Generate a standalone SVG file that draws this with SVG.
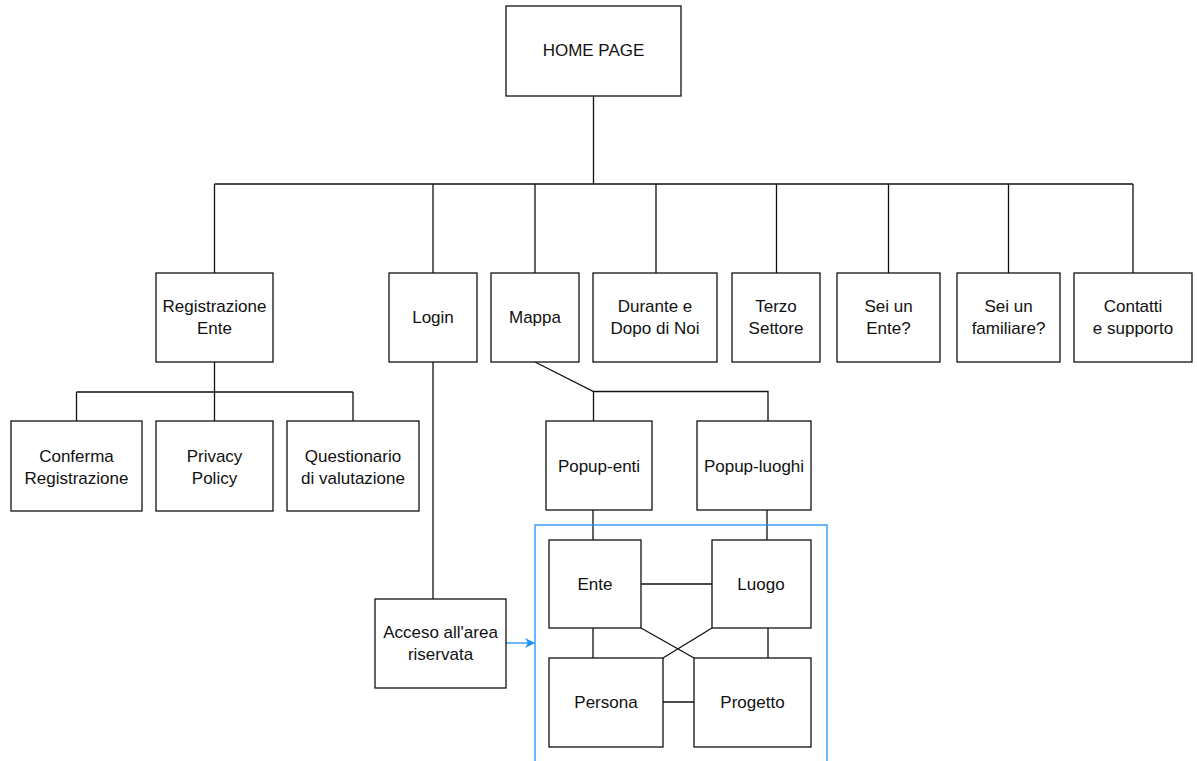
<svg xmlns="http://www.w3.org/2000/svg" width="1197" height="761" viewBox="0 0 1197 761">
<defs>
<style>
.box{fill:#fff;stroke:#111;stroke-width:1.3}
.edge{fill:none;stroke:#111;stroke-width:1.3}
.lbl{font-family:"Liberation Sans",Arial,Helvetica,sans-serif;font-size:17px;text-anchor:middle;fill:#111}
.blue{fill:none;stroke:#1f8ef5;stroke-width:1.3}
</style>
<marker id="arr" viewBox="0 0 10 10" refX="9" refY="5" markerWidth="10" markerHeight="10" markerUnits="userSpaceOnUse" orient="auto">
<path d="M0,0 L10,5 L0,10 L3,5 Z" fill="#1f8ef5"/>
</marker>
</defs>
<rect width="1197" height="761" fill="#fff"/>
<g id="connectors">
<path class="edge" d="M593.5,96 V184 M214.5,184 H1133 M214.5,184 V273 M433,184 V273 M535,184 V273 M656,184 V273 M776.5,184 V273 M888.5,184 V273 M1008.5,184 V273 M1133,184 V273"/>
<path class="edge" d="M214.5,362 V392 M76.5,392 H353 M76.5,392 V421 M214.5,392 V421 M353,392 V421"/>
<path class="edge" d="M433,362 V599"/>
<path class="edge" d="M535,362 L593.5,391.5 H768 V421 M593.5,391.5 V421"/>
<path class="edge" d="M593,510 V540 M767,510 V540 M641,584 H712 M593,628 V658 M768,628 V658 M663,702 H694 M641,628 L694,658 M712,628 L663,658"/>
<line class="blue" x1="506" y1="643" x2="534" y2="643" marker-end="url(#arr)"/>
</g>
<g id="group-area">
<rect class="blue" x="535" y="525" width="292" height="260"/>
</g>
<g id="home"><rect class="box" x="506" y="6" width="175" height="90"/><text class="lbl" x="593.5" y="56">HOME PAGE</text></g>
<g id="registrazione"><rect class="box" x="156" y="273" width="117" height="89"/><text class="lbl" x="214.5" y="312">Registrazione</text><text class="lbl" x="214.5" y="334">Ente</text></g>
<g id="login"><rect class="box" x="389" y="273" width="88" height="89"/><text class="lbl" x="433" y="323">Login</text></g>
<g id="mappa"><rect class="box" x="491" y="273" width="88" height="89"/><text class="lbl" x="535" y="323">Mappa</text></g>
<g id="durante"><rect class="box" x="593" y="273" width="124" height="89"/><text class="lbl" x="655" y="312">Durante e</text><text class="lbl" x="655" y="334">Dopo di Noi</text></g>
<g id="terzo"><rect class="box" x="732" y="273" width="88" height="89"/><text class="lbl" x="776" y="312">Terzo</text><text class="lbl" x="776" y="334">Settore</text></g>
<g id="seiente"><rect class="box" x="837" y="273" width="103" height="89"/><text class="lbl" x="888.5" y="312">Sei un</text><text class="lbl" x="888.5" y="334">Ente?</text></g>
<g id="seifamiliare"><rect class="box" x="957" y="273" width="103" height="89"/><text class="lbl" x="1008.5" y="312">Sei un</text><text class="lbl" x="1008.5" y="334">familiare?</text></g>
<g id="contatti"><rect class="box" x="1074" y="273" width="118" height="89"/><text class="lbl" x="1133" y="312">Contatti</text><text class="lbl" x="1133" y="334">e supporto</text></g>
<g id="conferma"><rect class="box" x="11" y="421" width="131" height="90"/><text class="lbl" x="76.5" y="462">Conferma</text><text class="lbl" x="76.5" y="484">Registrazione</text></g>
<g id="privacy"><rect class="box" x="156" y="421" width="117" height="90"/><text class="lbl" x="214.5" y="462">Privacy</text><text class="lbl" x="214.5" y="484">Policy</text></g>
<g id="questionario"><rect class="box" x="287" y="421" width="132" height="90"/><text class="lbl" x="353" y="462">Questionario</text><text class="lbl" x="353" y="484">di valutazione</text></g>
<g id="acceso"><rect class="box" x="375" y="599" width="131" height="89"/><text class="lbl" x="440.5" y="638">Acceso all'area</text><text class="lbl" x="440.5" y="660">riservata</text></g>
<g id="popupenti"><rect class="box" x="546" y="421" width="106" height="89"/><text class="lbl" x="599" y="472">Popup-enti</text></g>
<g id="popupluoghi"><rect class="box" x="697" y="421" width="114" height="89"/><text class="lbl" x="754" y="472">Popup-luoghi</text></g>
<g id="ente"><rect class="box" x="549" y="540" width="92" height="88"/><text class="lbl" x="595" y="590">Ente</text></g>
<g id="luogo"><rect class="box" x="712" y="540" width="99" height="88"/><text class="lbl" x="761" y="590">Luogo</text></g>
<g id="persona"><rect class="box" x="549" y="658" width="114" height="89"/><text class="lbl" x="606" y="708">Persona</text></g>
<g id="progetto"><rect class="box" x="694" y="658" width="117" height="89"/><text class="lbl" x="752.5" y="708">Progetto</text></g>
</svg>
